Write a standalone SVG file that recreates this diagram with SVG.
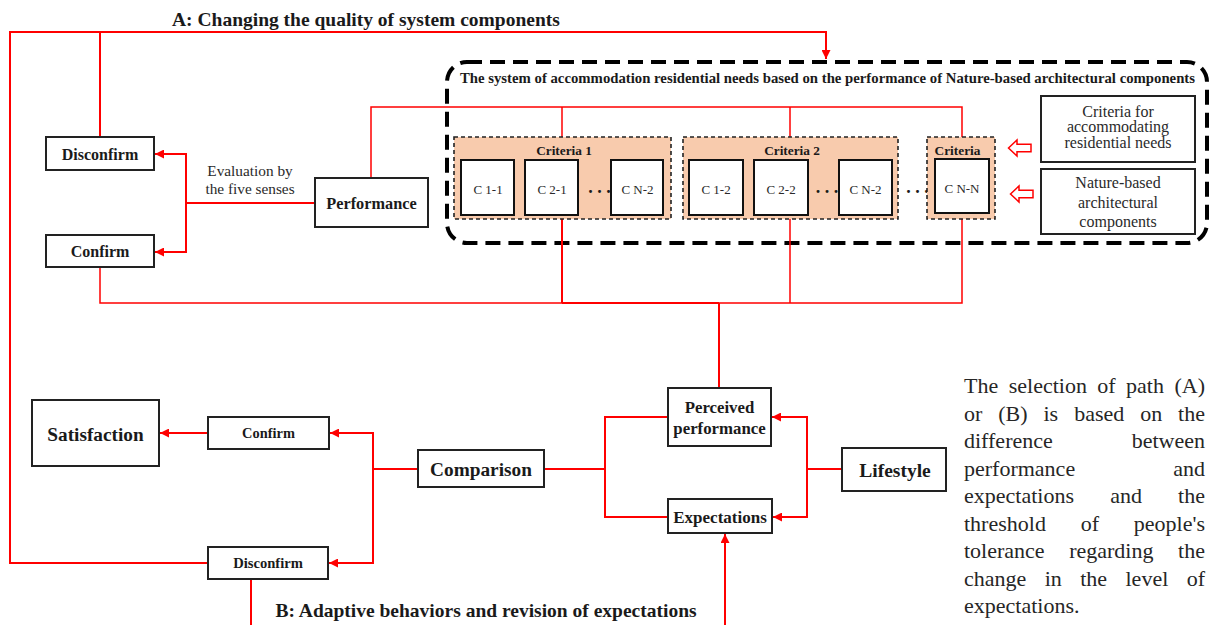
<svg xmlns="http://www.w3.org/2000/svg" width="1210" height="625" viewBox="0 0 1210 625">
  <style>
    .box { fill: #ffffff; stroke: #222222; stroke-width: 2; }
    .cell { fill: #ffffff; stroke: #111111; stroke-width: 2; }
    .crit { fill: #f8cbad; stroke: #222222; stroke-width: 1.6; stroke-dasharray: 4 3; }
    .wire { fill: none; stroke: #ff0000; stroke-width: 2; }
    .thin { fill: none; stroke: #ff0000; stroke-width: 1.5; }
    .lab { font-family: "Liberation Serif", "Times New Roman", serif; font-weight: bold; fill: #1a1a1a; text-anchor: middle; }
    .reg { font-family: "Liberation Serif", "Times New Roman", serif; fill: #2a2a2a; text-anchor: middle; }
    .para { font-family: "Liberation Serif", "Times New Roman", serif; font-size: 22px; fill: #262626; }
    .hollow { fill: #ffffff; stroke: #ff0000; stroke-width: 1.5; stroke-linejoin: miter; }
  </style>
  <defs>
    <marker id="arrow" viewBox="0 0 10 10" refX="10" refY="5" markerWidth="9" markerHeight="9" markerUnits="userSpaceOnUse" orient="auto">
      <path d="M0,0 L10,5 L0,10 z" fill="#ff0000"/>
    </marker>
  </defs>

  <rect width="1210" height="625" fill="#ffffff"/>

  <!-- path labels -->
  <text class="lab" x="172" y="26" font-size="19.5" style="text-anchor:start">A: Changing the quality of system components</text>
  <text class="lab" x="275.5" y="617" font-size="19.5" style="text-anchor:start">B: Adaptive behaviors and revision of expectations</text>

  <!-- system boundary -->
  <g id="system">
    <rect x="447" y="62" width="760" height="181" rx="20" ry="20" fill="none" stroke="#000000" stroke-width="4" stroke-dasharray="15 8"/>
    <text class="lab" x="827.5" y="83" font-size="14.2" textLength="735" lengthAdjust="spacingAndGlyphs">The system of accommodation residential needs based on the performance of Nature-based architectural components</text>
  </g>

  <!-- connectors -->
  <g id="connectors">
    <!-- evaluation branch -->
    <polyline class="wire" points="315,203 186,203"/>
    <polyline class="wire" points="186,203 186,154 155,154" marker-end="url(#arrow)"/>
    <polyline class="wire" points="186,203 186,252 155,252" marker-end="url(#arrow)"/>
    <!-- performance to criteria -->
    <polyline class="thin" points="371,178 371,107 962,107 962,137"/>
    <line class="thin" x1="562" y1="107" x2="562" y2="137"/>
    <line class="thin" x1="790" y1="107" x2="790" y2="137"/>
    <!-- criteria to perceived performance -->
    <polyline class="thin" points="100,267 100,303 962,303 962,219"/>
    <line class="wire" x1="562" y1="219" x2="562" y2="303"/>
    <line class="thin" x1="790" y1="219" x2="790" y2="303"/>
    <line class="wire" x1="562" y1="303" x2="719" y2="303"/>
    <line class="wire" x1="719" y1="303" x2="719" y2="388"/>
    <!-- path A loop -->
    <polyline class="wire" points="100,137 100,32"/>
    <polyline class="wire" points="208,563 10,563 10,32 826,32 826,59" marker-end="url(#arrow)"/>
    <!-- comparison branch -->
    <polyline class="wire" points="418,469 373,469"/>
    <polyline class="wire" points="373,469 373,433 330,433" marker-end="url(#arrow)"/>
    <polyline class="wire" points="373,469 373,563 329,563" marker-end="url(#arrow)"/>
    <line class="wire" x1="208" y1="433" x2="160" y2="433" marker-end="url(#arrow)"/>
    <!-- comparison inputs -->
    <polyline class="wire" points="544,469 605,469"/>
    <polyline class="wire" points="668,417 605,417 605,517 668,517"/>
    <!-- lifestyle -->
    <polyline class="wire" points="842,469 807,469"/>
    <polyline class="wire" points="807,469 807,417 772,417" marker-end="url(#arrow)"/>
    <polyline class="wire" points="807,469 807,517 773,517" marker-end="url(#arrow)"/>
    <!-- path B -->
    <line class="wire" x1="251" y1="579" x2="251" y2="625"/>
    <line class="wire" x1="725" y1="625" x2="725" y2="534" marker-end="url(#arrow)"/>
    <!-- hollow input arrows -->
    <path class="hollow" d="M1008.5,148 L1017,140 L1017,144.2 L1031,144.2 L1031,151.8 L1017,151.8 L1017,156 z"/>
    <path class="hollow" d="M1010.5,194 L1019,186 L1019,190.2 L1033,190.2 L1033,197.8 L1019,197.8 L1019,202 z"/>
  </g>

  <!-- upper loop nodes -->
  <g id="disconfirm-top">
    <rect class="box" x="46" y="137" width="108" height="33"/>
    <text class="lab" x="100" y="160" font-size="16">Disconfirm</text>
  </g>
  <g id="confirm-top">
    <rect class="box" x="46" y="235" width="108" height="32"/>
    <text class="lab" x="100" y="257" font-size="16">Confirm</text>
  </g>
  <g id="evaluation-label">
    <text class="reg" x="250" y="175.5" font-size="15.3">Evaluation by</text>
    <text class="reg" x="250" y="194" font-size="15.3">the five senses</text>
  </g>
  <g id="performance">
    <rect class="box" x="315" y="178" width="113" height="49"/>
    <text class="lab" x="371.5" y="208.5" font-size="16.3">Performance</text>
  </g>

  <!-- criteria groups -->
  <g id="criteria-1">
    <rect class="crit" x="454" y="137" width="217" height="82"/>
    <text class="lab" x="564" y="155" font-size="13.3">Criteria 1</text>
    <rect class="cell" x="461" y="160" width="53" height="55"/>
    <rect class="cell" x="525" y="160" width="53" height="55"/>
    <rect class="cell" x="611" y="160" width="52" height="55"/>
    <text class="reg" x="488" y="194" font-size="13">C 1-1</text>
    <text class="reg" x="552" y="194" font-size="13">C 2-1</text>
    <text class="reg" x="637.5" y="194" font-size="13">C N-2</text>
    <text class="lab" x="599.5" y="193" font-size="18">. . .</text>
  </g>
  <g id="criteria-2">
    <rect class="crit" x="683" y="137" width="215" height="82"/>
    <text class="lab" x="792" y="155" font-size="13.3">Criteria 2</text>
    <rect class="cell" x="689" y="160" width="54" height="55"/>
    <rect class="cell" x="754" y="160" width="54" height="55"/>
    <rect class="cell" x="839" y="160" width="53" height="55"/>
    <text class="reg" x="716" y="194" font-size="13">C 1-2</text>
    <text class="reg" x="781" y="194" font-size="13">C 2-2</text>
    <text class="reg" x="865.5" y="194" font-size="13">C N-2</text>
    <text class="lab" x="827" y="193" font-size="18">. . .</text>
  </g>
  <text class="lab" x="917.5" y="193" font-size="18">. . .</text>
  <g id="criteria-n">
    <rect class="crit" x="927" y="137" width="68" height="82"/>
    <text class="lab" x="957.5" y="154.5" font-size="13.3">Criteria</text>
    <rect class="cell" x="935" y="159" width="54" height="54"/>
    <text class="reg" x="962" y="193" font-size="13">C N-N</text>
  </g>

  <g id="criteria-needs">
    <rect class="box" x="1041" y="96" width="154" height="66"/>
    <text class="reg" x="1118" y="116.5" font-size="16">Criteria for</text>
    <text class="reg" x="1118" y="132" font-size="16">accommodating</text>
    <text class="reg" x="1118" y="147.5" font-size="16">residential needs</text>
  </g>
  <g id="nature-components">
    <rect class="box" x="1041" y="169" width="154" height="65"/>
    <text class="reg" x="1118" y="188" font-size="16">Nature-based</text>
    <text class="reg" x="1118" y="207.5" font-size="16">architectural</text>
    <text class="reg" x="1118" y="226.5" font-size="16">components</text>
  </g>

  <!-- lower loop nodes -->
  <g id="satisfaction">
    <rect class="box" x="32" y="400" width="127" height="66"/>
    <text class="lab" x="95.5" y="440.5" font-size="19.3">Satisfaction</text>
  </g>
  <g id="confirm-bottom">
    <rect class="box" x="208" y="417" width="121" height="32"/>
    <text class="lab" x="268.5" y="438" font-size="14.4">Confirm</text>
  </g>
  <g id="disconfirm-bottom">
    <rect class="box" x="208" y="547" width="120" height="32"/>
    <text class="lab" x="268" y="568" font-size="14.6">Disconfirm</text>
  </g>
  <g id="comparison">
    <rect class="box" x="418" y="450" width="126" height="37"/>
    <text class="lab" x="481" y="476" font-size="19.3">Comparison</text>
  </g>
  <g id="perceived-performance">
    <rect class="box" x="668" y="388" width="103" height="58"/>
    <text class="lab" x="719.5" y="413" font-size="16.8">Perceived</text>
    <text class="lab" x="719.5" y="433.5" font-size="16.8">performance</text>
  </g>
  <g id="expectations">
    <rect class="box" x="668" y="499" width="104" height="34"/>
    <text class="lab" x="720" y="522.5" font-size="17">Expectations</text>
  </g>
  <g id="lifestyle">
    <rect class="box" x="842" y="448" width="104" height="43"/>
    <text class="lab" x="895" y="476.5" font-size="19.5">Lifestyle</text>
  </g>

  <!-- explanatory note, justified -->
  <g id="note" class="para">
    <text y="393"><tspan x="964">The</tspan><tspan x="1008.7">selection</tspan><tspan x="1097.3">of</tspan><tspan x="1126.1">path</tspan><tspan x="1174.5">(A)</tspan></text>
    <text y="420.5"><tspan x="964">or</tspan><tspan x="998.3">(B)</tspan><tspan x="1043.5">is</tspan><tspan x="1074.2">based</tspan><tspan x="1140.2">on</tspan><tspan x="1178.1">the</tspan></text>
    <text y="448"><tspan x="964">difference</tspan></text>
    <text y="448" x="1205" text-anchor="end">between</text>
    <text y="475.5"><tspan x="964">performance</tspan></text>
    <text y="475.5" x="1205" text-anchor="end">and</text>
    <text y="503"><tspan x="964">expectations</tspan><tspan x="1110.2">and</tspan></text>
    <text y="503" x="1205" text-anchor="end">the</text>
    <text y="530.5"><tspan x="964">threshold</tspan><tspan x="1080.7">of</tspan></text>
    <text y="530.5" x="1205" text-anchor="end">people's</text>
    <text y="558"><tspan x="964">tolerance</tspan><tspan x="1069.2">regarding</tspan></text>
    <text y="558" x="1205" text-anchor="end">the</text>
    <text y="585.5"><tspan x="964">change</tspan><tspan x="1044.7">in</tspan><tspan x="1080.2">the</tspan><tspan x="1125.5">level</tspan></text>
    <text y="585.5" x="1205" text-anchor="end">of</text>
    <text y="613" x="964">expectations.</text>
  </g>
</svg>
